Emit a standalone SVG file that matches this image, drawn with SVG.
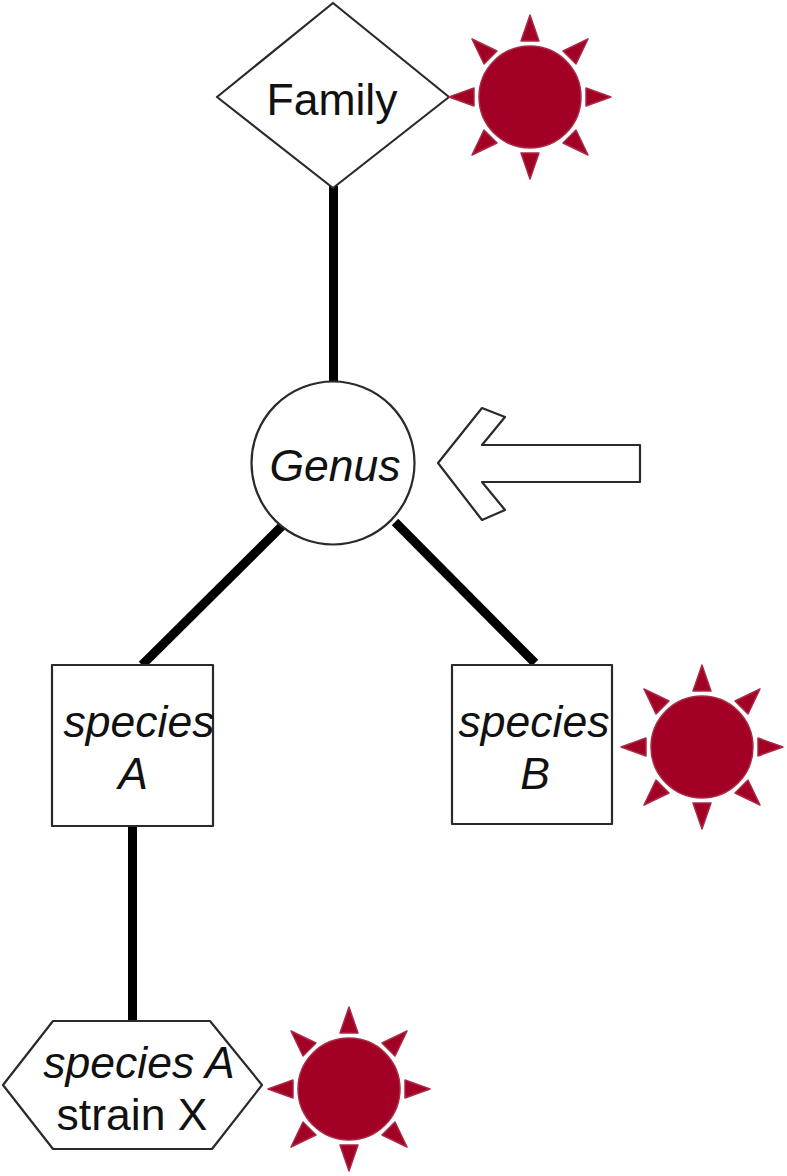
<svg xmlns="http://www.w3.org/2000/svg" width="787" height="1176" viewBox="0 0 787 1176">
<style>
.shape{fill:#fff;stroke:#2a2a2a;stroke-width:2.200;stroke-linejoin:round}
.edge{fill:none;stroke:#000;stroke-width:9}
.sun{fill:#a20025;stroke:#a92a45;stroke-width:1.500;stroke-linejoin:round}
text{font-family:"Liberation Sans",Arial,sans-serif;font-size:44.500px;fill:#111;text-anchor:middle}
.i{font-style:italic}
</style>
<defs>
<g id="sun" class="sun">
<circle cx="0" cy="0" r="51"/>
<path d="M0,-82L-9,-56H9Z"/>
<path d="M0,82L-9,56H9Z"/>
<path d="M-81,0L-56,-9V9Z"/>
<path d="M81,0L56,-9V9Z"/>
<path d="M58,-58L33,-46L46,-33Z"/>
<path d="M-58,-58L-33,-46L-46,-33Z"/>
<path d="M58,58L33,46L46,33Z"/>
<path d="M-58,58L-33,46L-46,33Z"/>
</g>
</defs>
<g id="connectors">
<path class="edge" d="M333.500,186V385"/>
<path class="edge" d="M282,526L142,665"/>
<path class="edge" d="M395,522L535,663"/>
<path class="edge" d="M132.500,826V1026"/>
</g>
<g id="family"><path class="shape" d="M333,3L449,97L333,188L217,97Z"/><text x="332" y="115">Family</text></g>
<g id="genus"><circle class="shape" cx="333" cy="463" r="81.500"/><text class="i" x="335" y="481">Genus</text></g>
<g id="arrow"><path class="shape" d="M438,463L482,408L505,417L482,445H640V482H482L505,510L482,520Z"/></g>
<g id="speciesA"><rect class="shape" x="52" y="665" width="161" height="161"/><text class="i" x="139" y="737">species</text><text class="i" x="133" y="789">A</text></g>
<g id="speciesB"><rect class="shape" x="452" y="665" width="160" height="159"/><text class="i" x="534" y="737">species</text><text class="i" x="535" y="789">B</text></g>
<g id="strainX"><path class="shape" d="M3,1085L53,1021H210L262,1085L212,1149H53Z"/><text class="i" x="139" y="1078">species A</text><text x="132" y="1130">strain X</text></g>
<g id="sun1"><use href="#sun" x="530" y="97"/></g>
<g id="sun2"><use href="#sun" x="702" y="747"/></g>
<g id="sun3"><use href="#sun" x="349" y="1089"/></g>
</svg>
